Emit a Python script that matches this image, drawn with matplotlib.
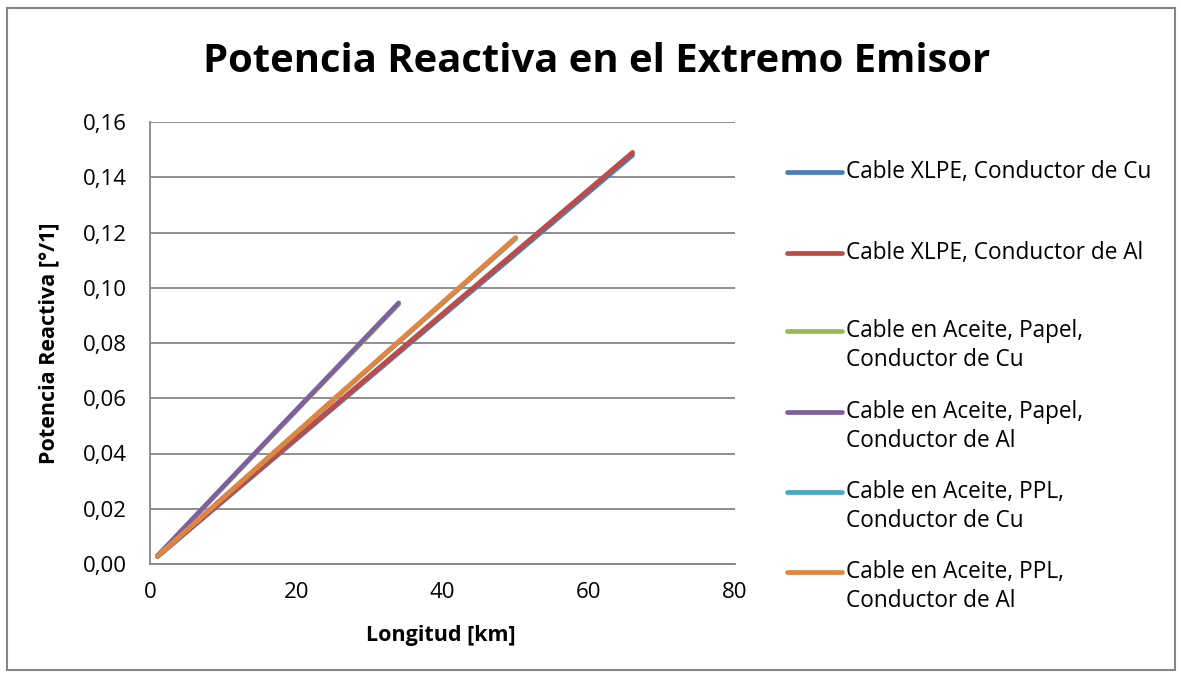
import matplotlib
matplotlib.use("Agg")
import matplotlib.pyplot as plt
from matplotlib.lines import Line2D
from matplotlib.patches import Rectangle

plt.rcParams['font.family'] = ['Open Sans', 'DejaVu Sans']

# longitud [km] y potencia reactiva [°/1]
x_xlpe_cu = [1, 33, 66]
y_xlpe_cu = [0.0026, 0.0742, 0.1480]
x_xlpe_al = [1, 33, 66]
y_xlpe_al = [0.0028, 0.0748, 0.1490]
x_pap_cu = [1, 17, 34]
y_pap_cu = [0.0028, 0.0472, 0.0940]
x_pap_al = [1, 17, 34]
y_pap_al = [0.0029, 0.0475, 0.0945]
x_ppl_cu = [1, 25, 50]
y_ppl_cu = [0.0028, 0.0592, 0.1178]
x_ppl_al = [1, 25, 50]
y_ppl_al = [0.0028, 0.0594, 0.1182]

labels = ["Cable XLPE, Conductor de Cu",
          "Cable XLPE, Conductor de Al",
          "Cable en Aceite, Papel,\nConductor de Cu",
          "Cable en Aceite, Papel,\nConductor de Al",
          "Cable en Aceite, PPL,\nConductor de Cu",
          "Cable en Aceite, PPL,\nConductor de Al"]
colors = ["#4A7EBB", "#BE4B48", "#98B954", "#7D60A0", "#46AAC5", "#E3853C"]

xs = [x_xlpe_cu, x_xlpe_al, x_pap_cu, x_pap_al, x_ppl_cu, x_ppl_al]
ys = [y_xlpe_cu, y_xlpe_al, y_pap_cu, y_pap_al, y_ppl_cu, y_ppl_al]

W, H = 1181, 679
fig = plt.figure(figsize=(W / 100, H / 100), dpi=100)
ax = fig.add_axes([150 / W, 1 - 564 / H, 585 / W, 442 / H])

gray = "#868686"
for x, y, c in zip(xs, ys, colors):
    ax.plot(x, y, color=c, lw=3.4, solid_capstyle='round', zorder=3)

ax.set_xlim(0, 80)
ax.set_ylim(0, 0.16)
ax.set_xticks([0, 20, 40, 60, 80])
ax.set_yticks([i * 0.02 for i in range(9)])
ax.set_yticklabels([("%.2f" % (i * 0.02)).replace(".", ",") for i in range(9)])
ax.tick_params(length=0, labelsize=16, colors="black")
ax.tick_params(axis='y', pad=16.5)
ax.tick_params(axis='x', pad=13)
ax.grid(axis='y', color=gray, lw=1.3)
ax.set_axisbelow(True)
for s in ['top', 'right']:
    ax.spines[s].set_visible(False)
for s in ['left', 'bottom']:
    ax.spines[s].set_color(gray)
    ax.spines[s].set_linewidth(1.3)

fig.text(597 / W, 1 - 61 / H, "Potencia Reactiva en el Extremo Emisor",
         ha='center', va='center', fontsize=28.8, fontweight='bold')
fig.text(441 / W, 1 - 636 / H, "Longitud [km]", ha='center', va='center',
         fontsize=15.5, fontweight='bold')
fig.text(49 / W, 1 - 343 / H, "Potencia Reactiva [°/1]", ha='center', va='center',
         fontsize=15.5, fontweight='bold', rotation=90)

# leyenda dibujada a mano
leg_y = [172, 253, 331, 412, 492, 572]
for lab, c, yy in zip(labels, colors, leg_y):
    fig.add_artist(Line2D([787 / W, 842 / W], [1 - yy / H, 1 - yy / H], color=c,
                          lw=3.4, solid_capstyle='round'))
    fig.text(846 / W, 1 - (yy - 12) / H, lab, ha='left', va='top',
             fontsize=16.3, linespacing=1.28)

fig.add_artist(Rectangle((7 / W, 1 - 670 / H), 1168 / W, 662 / H, fill=False,
                         edgecolor=gray, lw=1.5, transform=fig.transFigure))

fig.savefig("out.png", dpi=100)
